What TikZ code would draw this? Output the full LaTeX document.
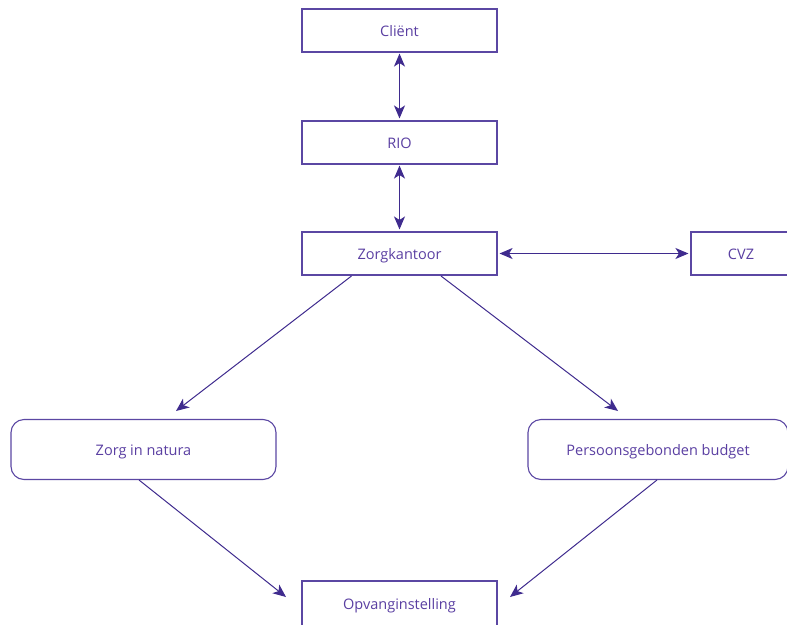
\documentclass[tikz,border=0pt]{standalone}
\usepackage{fontspec}
\setmainfont{Open Sans}
\usetikzlibrary{arrows.meta}
\definecolor{lineclr}{HTML}{3F2B8E}
\definecolor{boxclr}{HTML}{5B47A3}
\definecolor{txtclr}{HTML}{5A3FA2}
\begin{document}
\begin{tikzpicture}[x=1pt,y=1pt,
  box/.style={draw=boxclr, line width=1.1pt, fill=white, minimum height=43pt, inner sep=0pt,
    text=txtclr, font=\fontsize{14.5}{16}\selectfont, text height=12pt, text depth=0.4pt},
  rbox/.style={box, rounded corners=13pt, minimum height=60pt},
  conn/.style={draw=lineclr, line width=1pt},
  tip/.style={-{Stealth[length=13pt,width=11pt,inset=3.5pt]}},
  tips/.style={{Stealth[length=13pt,width=11pt,inset=3.5pt]}-{Stealth[length=13pt,width=11pt,inset=3.5pt]}}]
\useasboundingbox (0,0) rectangle (787,-624);
\node[box, minimum width=195pt] (client) at (399.5,-30.5) {Cliënt};
\node[box, minimum width=195pt] (rio) at (399.5,-142.5) {RIO};
\node[box, minimum width=195pt] (zk) at (399.5,-253.5) {Zorgkantoor};
\node[box, minimum width=100pt] (cvz) at (741,-253.5) {CVZ};
\node[rbox, minimum width=265pt] (zin) at (143.5,-449.5) {Zorg in natura};
\node[rbox, minimum width=260pt] (pgb) at (658,-449.5) {Persoonsgebonden budget};
\node[box, minimum width=195pt, minimum height=45pt] (opv) at (399.5,-603.5) {Opvanginstelling};
\coordinate (zkL) at (351.5,-276);
\coordinate (zkR) at (441,-276);
\coordinate (zinB) at (139,-480);
\coordinate (pgbB) at (657,-480);
\coordinate (t1) at (176,-411);
\coordinate (t2) at (618,-411);
\coordinate (t3) at (286,-597);
\coordinate (t4) at (510,-597);
\draw[conn,tips] ([yshift=-1pt]client.south) -- ([yshift=2pt]rio.north);
\draw[conn,tips] ([yshift=-1pt]rio.south) -- ([yshift=2pt]zk.north);
\draw[conn,tips] ([xshift=2pt]zk.east) -- ([xshift=-2pt]cvz.west);
\draw[conn,tip] (zkL) -- (t1);
\draw[conn,tip] (zkR) -- (t2);
\draw[conn,tip] (zinB) -- (t3);
\draw[conn,tip] (pgbB) -- (t4);
\end{tikzpicture}
\end{document}
